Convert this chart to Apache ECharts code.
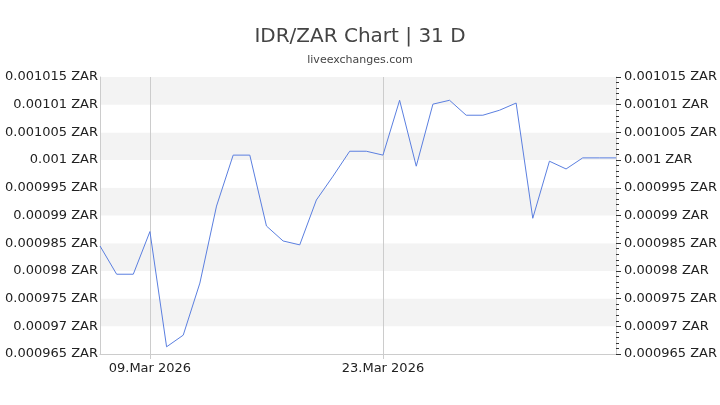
<!DOCTYPE html><html><head><meta charset="utf-8"><script src="https://cdn.jsdelivr.net/npm/echarts@6/dist/echarts.min.js"></script></head><body style="margin:0"><div id="c" style="width:720px;height:405px"></div><script>
const dates=['06.Mar 2026','07.Mar 2026','08.Mar 2026','09.Mar 2026','10.Mar 2026','11.Mar 2026','12.Mar 2026','13.Mar 2026','14.Mar 2026','15.Mar 2026','16.Mar 2026','17.Mar 2026','18.Mar 2026','19.Mar 2026','20.Mar 2026','21.Mar 2026','22.Mar 2026','23.Mar 2026','24.Mar 2026','25.Mar 2026','26.Mar 2026','27.Mar 2026','28.Mar 2026','29.Mar 2026','30.Mar 2026','31.Mar 2026','01.Apr 2026','02.Apr 2026','03.Apr 2026','04.Apr 2026','05.Apr 2026','06.Apr 2026'];
const rates=[0.0009845,0.0009794,0.0009794,0.0009871,0.0009663,0.0009684,0.0009778,0.0009917,0.0010009,0.0010009,0.0009881,0.0009854,0.0009847,0.0009928,0.0009971,0.0010016,0.0010016,0.0010009,0.0010108,0.0009989,0.0010101,0.0010108,0.0010081,0.0010081,0.0010090,0.0010103,0.0009895,0.0009998,0.0009984,0.0010004,0.0010004,0.0010004];
const labelIdx=[3,17];
const fmt=v=>parseFloat(v.toFixed(7)).toString()+' ZAR';
const yAx=(pos)=>({type:'value',position:pos,min:0.000965,max:0.001015,interval:0.000005,
 axisLine:{show:true,lineStyle:{color:'#ccc'}},axisTick:{show:pos==='right',lineStyle:{color:'#333'}},
 minorTick:{show:pos==='right',splitNumber:5,lineStyle:{color:'#333'}},
 axisLabel:{formatter:fmt,color:'#222',fontSize:13,fontFamily:'DejaVu Sans',margin:pos==='right'?8:2},
 splitLine:{show:false},splitArea:{show:pos==='left',areaStyle:{color:['#fff','#f3f3f3']}}});
echarts.init(document.getElementById('c')).setOption({
 title:{text:'IDR/ZAR Chart | 31 D',subtext:'liveexchanges.com',left:'center',top:22,itemGap:8,
  textStyle:{fontSize:20,fontWeight:'normal',color:'#444',fontFamily:'DejaVu Sans'},
  subtextStyle:{fontSize:11,color:'#444',fontFamily:'DejaVu Sans'}},
 grid:{left:100,right:102,top:77,bottom:51},
 xAxis:{type:'category',data:dates,boundaryGap:false,
  axisLine:{lineStyle:{color:'#ccc'}},
  axisTick:{interval:(i)=>labelIdx.includes(i),lineStyle:{color:'#ccc'}},
  axisLabel:{interval:(i)=>labelIdx.includes(i),color:'#222',fontSize:13,fontFamily:'DejaVu Sans'},
  splitLine:{show:true,interval:(i)=>labelIdx.includes(i),lineStyle:{color:'#ccc'}}},
 yAxis:[yAx('left'),yAx('right')],
 series:[{type:'line',data:rates,symbol:'none',lineStyle:{color:'#5b7fe0',width:1}}]
});
</script></body></html>
